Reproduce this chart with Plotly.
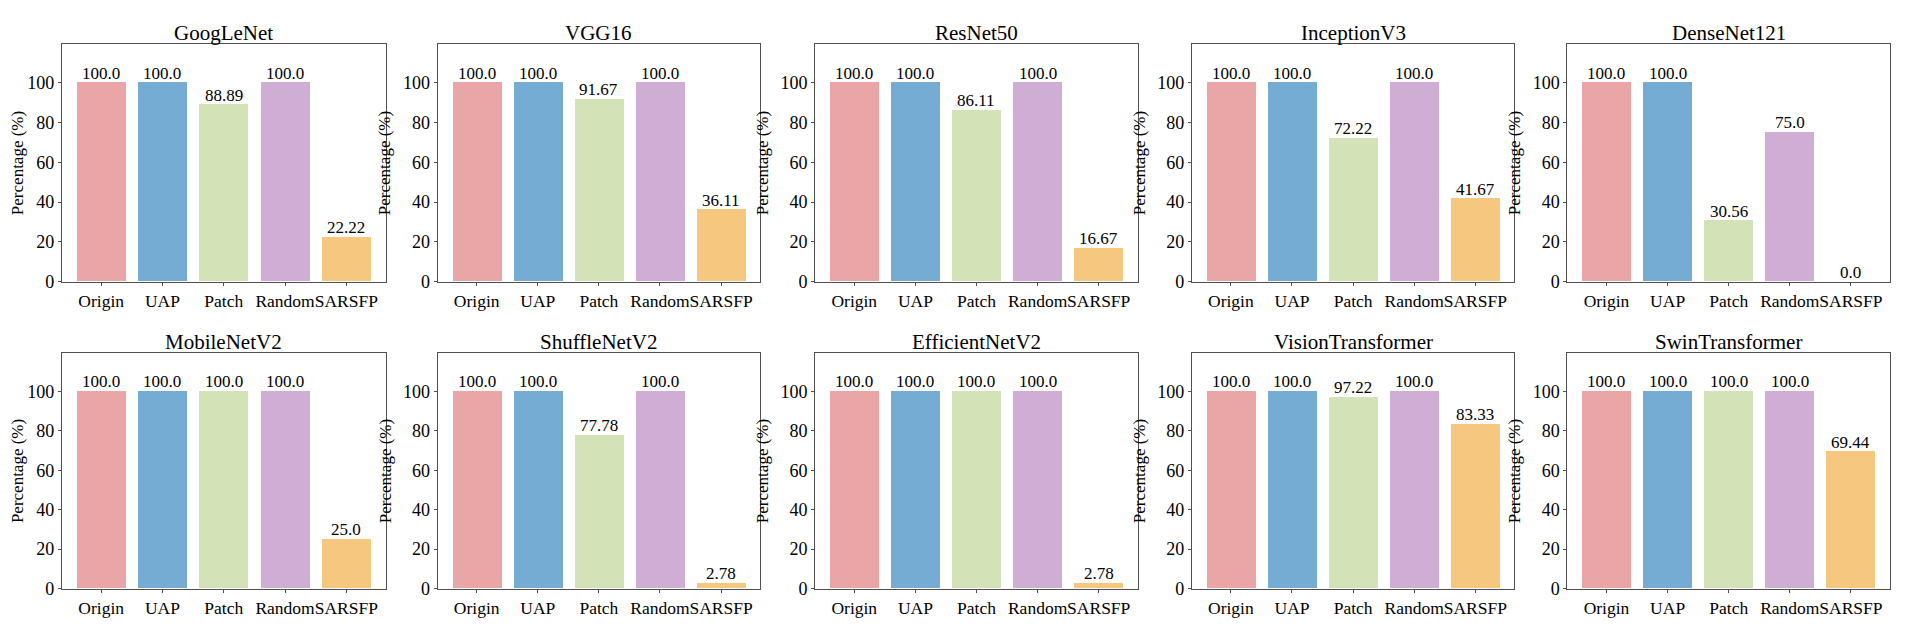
import plotly.graph_objects as go

models = ["GoogLeNet", "VGG16", "ResNet50", "InceptionV3", "DenseNet121",
          "MobileNetV2", "ShuffleNetV2", "EfficientNetV2", "VisionTransformer", "SwinTransformer"]
methods = ["Origin", "UAP", "Patch", "Random", "SARSFP"]
origin = [100.0, 100.0, 100.0, 100.0, 100.0, 100.0, 100.0, 100.0, 100.0, 100.0]
uap = [100.0, 100.0, 100.0, 100.0, 100.0, 100.0, 100.0, 100.0, 100.0, 100.0]
patch = [88.89, 91.67, 86.11, 72.22, 30.56, 100.0, 77.78, 100.0, 97.22, 100.0]
random_ = [100.0, 100.0, 100.0, 100.0, 75.0, 100.0, 100.0, 100.0, 100.0, 100.0]
sarsfp = [22.22, 36.11, 16.67, 41.67, 0.0, 25.0, 2.78, 2.78, 83.33, 69.44]
y_ticks = [0, 20, 40, 60, 80, 100]
colors = ["#EAA6A7", "#74ACD3", "#D4E3B7", "#CFADD4", "#F6C77E"]

W, H = 1925, 625
col_px = [(52, 376), (428, 751), (806, 1129), (1183, 1506), (1559, 1882)]
row_px = [(37, 278), (351, 590)]
FONT = "Liberation Serif"

fig = go.Figure()
annotations = []
for i, name in enumerate(models):
    r, c = divmod(i, 5)
    ax_id = "" if i == 0 else str(i + 1)
    vals = [origin[i], uap[i], patch[i], random_[i], sarsfp[i]]
    fig.add_trace(go.Bar(
        x=list(range(5)), y=vals, width=0.8,
        marker=dict(color=colors, line=dict(width=0)),
        showlegend=False, xaxis="x" + ax_id, yaxis="y" + ax_id,
    ))
    for j, v in enumerate(vals):
        annotations.append(dict(text=f"{v}", x=j, y=v, xref="x" + ax_id, yref="y" + ax_id,
                                xanchor="center", yanchor="bottom", yshift=-2, showarrow=False,
                                font=dict(family=FONT, size=17, color="black")))
    x0, x1 = col_px[c]
    y0, y1 = row_px[r]
    xd = [x0 / W, x1 / W]
    yd = [1 - y1 / H, 1 - y0 / H]
    axis_common = dict(showline=True, mirror=True, linecolor="#505050", linewidth=1,
                       showgrid=False, zeroline=False, ticks="outside", ticklen=3,
                       tickcolor="#505050")
    fig.update_layout(**{
        "xaxis" + ax_id: dict(domain=xd, range=[-0.64, 4.64], tickvals=list(range(5)),
                              ticktext=methods, tickangle=0, anchor="y" + ax_id,
                              tickfont=dict(family=FONT, size=17.5, color="black"), **axis_common),
        "yaxis" + ax_id: dict(domain=yd, range=[0, 119.3], tickvals=y_ticks, anchor="x" + ax_id,
                              tickfont=dict(family=FONT, size=18, color="black"),
                              title=dict(text="Percentage (%)", font=dict(family=FONT, size=17, color="black"),
                                         standoff=7),
                              **axis_common),
    })
    annotations.append(dict(text=name, x=(xd[0] + xd[1]) / 2, y=yd[1], xref="paper", yref="paper",
                            xanchor="center", yanchor="bottom", yshift=-3, showarrow=False,
                            font=dict(family=FONT, size=21, color="black")))

fig.update_layout(width=W, height=H, margin=dict(l=0, r=0, t=0, b=0),
                  paper_bgcolor="white", plot_bgcolor="white",
                  annotations=annotations, bargap=0)
fig.write_html("out.html")
